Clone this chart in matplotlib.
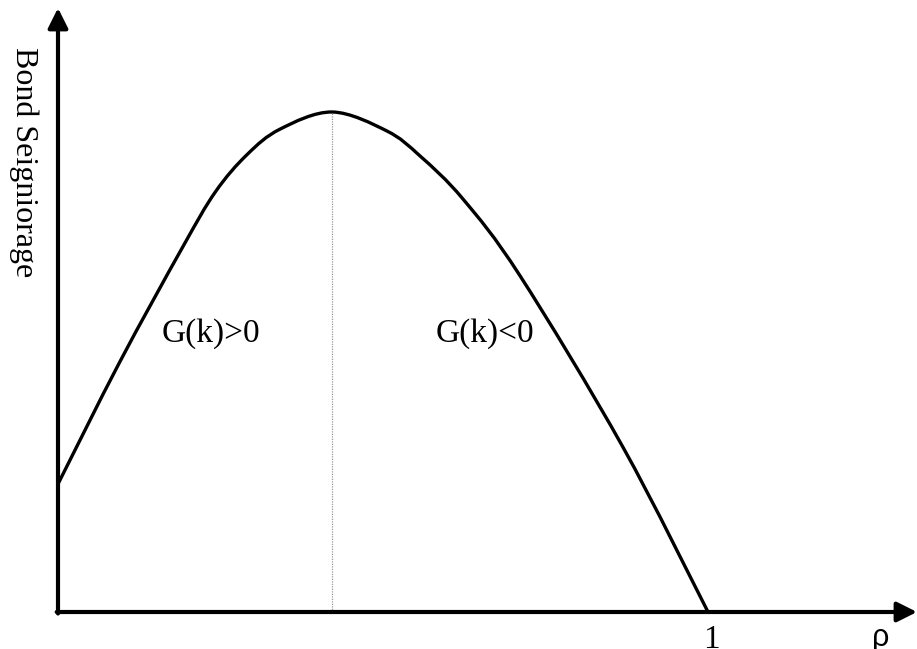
import matplotlib.pyplot as plt
from matplotlib.path import Path
from matplotlib.patches import PathPatch

# curve (rho, seigniorage in arbitrary units)
rho = [0.0, 0.095, 0.191, 0.242, 0.291, 0.342, 0.422, 0.506, 0.557,
       0.623, 0.711, 0.869, 1.0]
seign = [0.256, 0.5, 0.728, 0.84, 0.915, 0.966, 1.0, 0.962, 0.912,
         0.826, 0.672, 0.33, 0.0]
rho_peak = 0.422
peak = 1.0

labels = ['G(k)>0', 'G(k)<0']
label_x = [0.236, 0.657]
label_y = 0.556

xmax = 1.3215
ymax = 1.208

fig = plt.figure(figsize=(9.17, 6.49), dpi=100)
ax = fig.add_axes([58 / 917, 37 / 649, 859 / 917, 604 / 649])
ax.set_xlim(0, xmax)
ax.set_ylim(0, ymax)
ax.axis('off')

serif = 'Liberation Serif'

# axes with arrow heads
arrow = dict(arrowstyle='-|>,head_length=0.6,head_width=0.3', lw=3,
             color='black', mutation_scale=20, shrinkA=0, shrinkB=0)
ax.annotate('', xy=(xmax, 0), xytext=(-0.002, 0), arrowprops=arrow,
            annotation_clip=False)
ax.annotate('', xy=(0, ymax), xytext=(0, -0.003), arrowprops=arrow,
            annotation_clip=False)

# smooth curve through the points (catmull-rom as bezier segments)
pts = list(zip(rho, seign))
verts = [pts[0]]
codes = [Path.MOVETO]
for i in range(len(pts) - 1):
    p0 = pts[i - 1] if i > 0 else pts[i]
    p1 = pts[i]
    p2 = pts[i + 1]
    p3 = pts[i + 2] if i + 2 < len(pts) else pts[i + 1]
    c1 = (p1[0] + (p2[0] - p0[0]) / 6, p1[1] + (p2[1] - p0[1]) / 6)
    c2 = (p2[0] - (p3[0] - p1[0]) / 6, p2[1] - (p3[1] - p1[1]) / 6)
    verts += [c1, c2, p2]
    codes += [Path.CURVE4] * 3
ax.add_patch(PathPatch(Path(verts, codes), fill=False, color='black',
                       lw=2.4, clip_on=False))

ax.plot([rho_peak, rho_peak], [0, peak], color='#999999', lw=0.9,
        ls=(0, (1, 1)))

for t, x in zip(labels, label_x):
    ax.text(x, label_y, t, fontsize=24, family=serif, ha='center', va='center')

ax.text(1.006, -0.026, '1', fontsize=24, family=serif, ha='center', va='top')
ax.text(1.266, -0.022, 'ρ', fontsize=22, family='Liberation Sans',
        ha='center', va='top')
ax.text(-0.052, 0.9, 'Bond Seigniorage', fontsize=23, family=serif,
        rotation=270, ha='center', va='center')

fig.savefig('out.png', dpi=100)
